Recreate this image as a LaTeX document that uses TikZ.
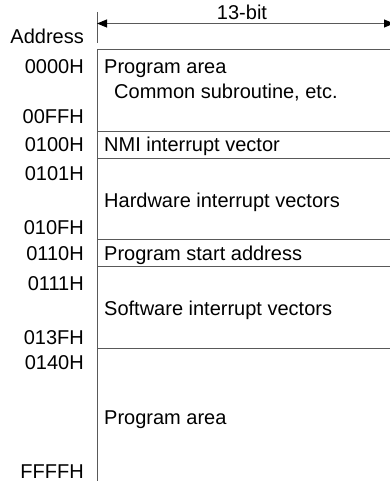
\documentclass[tikz,border=0pt]{standalone}
\usepackage{fontspec}
\setmainfont{Liberation Sans}
\usetikzlibrary{arrows.meta}
\begin{document}
\begin{tikzpicture}[x=1pt,y=-1pt,
  rule/.style={draw=black!65,line width=0.9pt},
  dimtip/.tip={Triangle[length=10pt,width=8pt,color=black]},
  txt/.style={inner sep=0pt,font=\fontsize{20}{24}\selectfont},
  addr/.style={txt,anchor=base east},
  area/.style={txt,anchor=base west}]
\useasboundingbox (0,0) rectangle (390,481);
% width dimension
\node[txt,anchor=base] (bits) at (242,20) {13-bit};
\coordinate (wl) at (97,23.5);
\coordinate (wr) at (394,23.5);
\draw[rule] (97,12) -- (97,43);
\draw[rule,dimtip-dimtip] (wl) -- (wr);
\node[addr] (hdr) at (84,44) {Address};
% memory map frame
\draw[rule] (390,49) -- (97,49) -- (97,481);
\foreach \y in {131,158,239,266,348} \draw[rule] (97,\y) -- (390,\y);
% addresses
\node[addr] (a0) at (84,74) {0000H};
\node[addr] (a1) at (84,124) {00FFH};
\node[addr] (a2) at (84,152) {0100H};
\node[addr] (a3) at (84,180) {0101H};
\node[addr] (a4) at (84,234) {010FH};
\node[addr] (a5) at (84,260) {0110H};
\node[addr] (a6) at (84,290) {0111H};
\node[addr] (a7) at (84,344) {013FH};
\node[addr] (a8) at (84,369) {0140H};
\node[addr] (a9) at (84,478) {FFFFH};
% areas
\node[area] (p0) at (104,74) {Program area};
\node[area] (p0b) at (114,99) {Common subroutine, etc.};
\node[area] (nmi) at (104,152) {NMI interrupt vector};
\node[area] (hw) at (104,207) {Hardware interrupt vectors};
\node[area] (ps) at (104,260) {Program start address};
\node[area] (sw) at (104,315) {Software interrupt vectors};
\node[area] (p1) at (104,424) {Program area};
\end{tikzpicture}
\end{document}
